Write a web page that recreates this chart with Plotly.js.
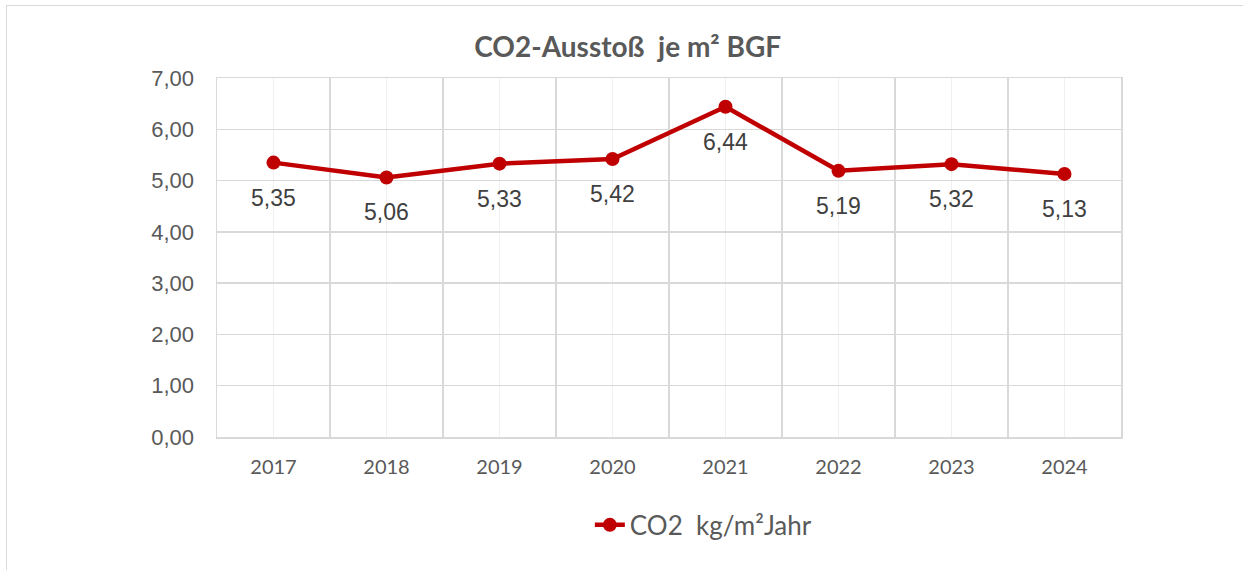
<!DOCTYPE html>
<html>
<head>
<meta charset="utf-8">
<script src="https://cdn.plot.ly/plotly-3.0.1.min.js"></script>
<style>
html,body{margin:0;padding:0;background:#fff;}
#wrap{position:relative;width:1243px;height:570px;overflow:hidden;}
#frame{position:absolute;left:6px;top:5px;width:1300px;height:700px;border-left:1.5px solid #d9d9d9;border-top:1.5px solid #d9d9d9;pointer-events:none;}
#chart{position:absolute;left:0;top:0;width:1243px;height:570px;}
</style>
</head>
<body>
<div id="wrap">
<div id="chart"></div>
<div id="frame"></div>
</div>
<script>
const years = ["2017","2018","2019","2020","2021","2022","2023","2024"];
const co2 = [5.35, 5.06, 5.33, 5.42, 6.44, 5.19, 5.32, 5.13];
const labels = co2.map(v => v.toFixed(2).replace('.', ','));
const yTicks = [0,1,2,3,4,5,6,7];
const yTickText = yTicks.map(v => v.toFixed(2).replace('.', ','));
const seriesName = "CO2  kg/m²Jahr";
const titleText = "CO2-Ausstoß  je m² BGF";

const xIdx = years.map((_, i) => i);

const trace = {
  x: xIdx,
  y: co2,
  type: 'scatter',
  mode: 'lines+markers',
  name: seriesName,
  line: {color: '#c00000', width: 4.5},
  marker: {color: '#c00000', size: 14},
  cliponaxis: false,
  hoverinfo: 'x+y'
};

const annotations = xIdx.map((x, i) => ({
  x: x, y: co2[i], xref: 'x', yref: 'y',
  text: labels[i], showarrow: false,
  yshift: -35,
  font: {family: 'Liberation Sans, Arial, sans-serif', size: 23, color: '#404040'}
}));

const layout = {
  width: 1243,
  height: 570,
  margin: {l: 217, r: 122, t: 78, b: 133},
  paper_bgcolor: 'rgba(0,0,0,0)',
  plot_bgcolor: '#fff',
  title: {
    text: '<b>' + titleText + '</b>',
    font: {family: 'Lato, Open Sans, sans-serif', size: 28, color: '#595959'},
    x: 0.505, xref: 'container', xanchor: 'center',
    y: 0.917, yref: 'container', yanchor: 'middle'
  },
  annotations: annotations,
  xaxis: {
    range: [-0.5, years.length - 0.5],
    tickvals: xIdx,
    ticktext: years,
    showgrid: true,
    gridcolor: '#f0f0f0',
    gridwidth: 1.5,
    minor: {tick0: -0.5, dtick: 1, showgrid: true, gridcolor: '#d9d9d9', gridwidth: 1.5, ticks: ''},
    showline: true, linecolor: '#d9d9d9', linewidth: 1.5, mirror: true,
    zeroline: false,
    ticks: '',
    ticklabelstandoff: 11,
    tickfont: {family: 'Lato, Open Sans, sans-serif', size: 20, color: '#595959'},
    fixedrange: true
  },
  yaxis: {
    range: [0, 7],
    tickvals: yTicks,
    ticktext: yTickText,
    showgrid: true,
    gridcolor: '#d9d9d9',
    gridwidth: 1.5,
    showline: true, linecolor: '#d9d9d9', linewidth: 1.5, mirror: true,
    zeroline: false,
    ticks: '',
    ticklabelstandoff: 17,
    tickfont: {family: 'Liberation Sans, Arial, sans-serif', size: 22, color: '#595959'},
    fixedrange: true
  },
  showlegend: true,
  legend: {
    orientation: 'h',
    x: 0.538, xanchor: 'center',
    y: -0.245, yanchor: 'middle',
    font: {family: 'Lato, Open Sans, sans-serif', size: 26, color: '#595959'}
  }
};

Plotly.newPlot('chart', [trace], layout, {displayModeBar: false, staticPlot: true});
</script>
</body>
</html>
